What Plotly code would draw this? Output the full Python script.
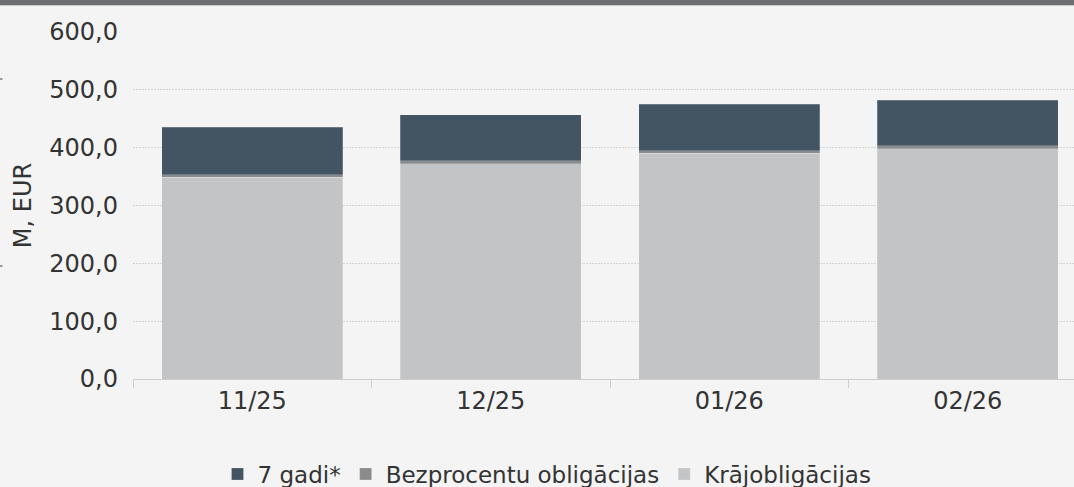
import plotly.graph_objects as go

categories = ["11/25", "12/25", "01/26", "02/26"]
kraj = [349, 372, 390, 398]
bezproc = [4, 5, 5, 5]
gadi7 = [82, 80, 80, 79]
y_ticks = [0, 100, 200, 300, 400, 500, 600]
y_tick_labels = ["0,0", "100,0", "200,0", "300,0", "400,0", "500,0", "600,0"]

W, H = 1074, 487
L, R, T, B = 133, 0, 32, 108
pw, ph = W - L - R, H - T - B

def px_x(p):
    return (p - L) / pw

def px_y(p):
    return (H - B - p) / ph

fig = go.Figure()
line = dict(width=0.6, color="rgba(255,255,255,0.35)")
fig.add_trace(go.Bar(x=categories, y=kraj, name="Krājobligācijas", marker=dict(color="#c3c4c6", line=line), width=0.76, legendrank=3))
fig.add_trace(go.Bar(x=categories, y=bezproc, name="Bezprocentu obligācijas", marker=dict(color="#8a8b8d", line=line), width=0.76, legendrank=2))
fig.add_trace(go.Bar(x=categories, y=gadi7, name="7 gadi*", marker=dict(color="#435562", line=line), width=0.76, legendrank=1))

cat_w = 238.5
fig.update_layout(
    width=W, height=H,
    margin=dict(l=L, r=R, t=T, b=B, autoexpand=False),
    barmode="stack",
    paper_bgcolor="#f4f4f4", plot_bgcolor="#f4f4f4",
    font=dict(family="DejaVu Sans", color="#333333"),
    showlegend=True,
    legend=dict(orientation="h", x=px_x(547), xanchor="center", y=px_y(474), yanchor="middle",
                font=dict(family="DejaVu Sans", size=23, color="#333333"),
                itemwidth=30, traceorder="normal"),
    xaxis=dict(range=[-0.5, -0.5 + pw / cat_w], showgrid=False, showline=True, linecolor="#cccccc", linewidth=1,
               ticks="outside", tickson="boundaries", ticklen=8, tickcolor="#cccccc",
               tickfont=dict(size=24, color="#333333"), fixedrange=True),
    yaxis=dict(range=[0, 600], tickvals=y_ticks, ticktext=y_tick_labels, showgrid=True,
               gridcolor="#d4d4d4", griddash="2px,1px", gridwidth=1, zeroline=False,
               tickfont=dict(size=24, color="#333333"), ticks="", ticklabelstandoff=14,
               title=dict(text="M, EUR", font=dict(size=24, color="#333333"), standoff=10)),
    shapes=[
        dict(type="rect", xref="paper", yref="paper", x0=px_x(0), x1=px_x(W), y0=px_y(5), y1=px_y(0),
             fillcolor="#6e6f73", line=dict(width=0), layer="above"),
        dict(type="line", xref="paper", yref="paper", x0=px_x(0), x1=px_x(W), y0=px_y(5.5), y1=px_y(5.5),
             line=dict(color="#c8c8c8", width=1)),
        dict(type="line", xref="paper", yref="paper", x0=px_x(0), x1=px_x(2.5), y0=px_y(79), y1=px_y(79),
             line=dict(color="#444444", width=1)),
        dict(type="line", xref="paper", yref="paper", x0=px_x(0), x1=px_x(2.5), y0=px_y(266), y1=px_y(266),
             line=dict(color="#444444", width=1)),
    ],
)

fig.write_html("out.html", config={"displayModeBar": False},
               post_script="document.body.style.margin='0';document.body.style.overflow='hidden';")
